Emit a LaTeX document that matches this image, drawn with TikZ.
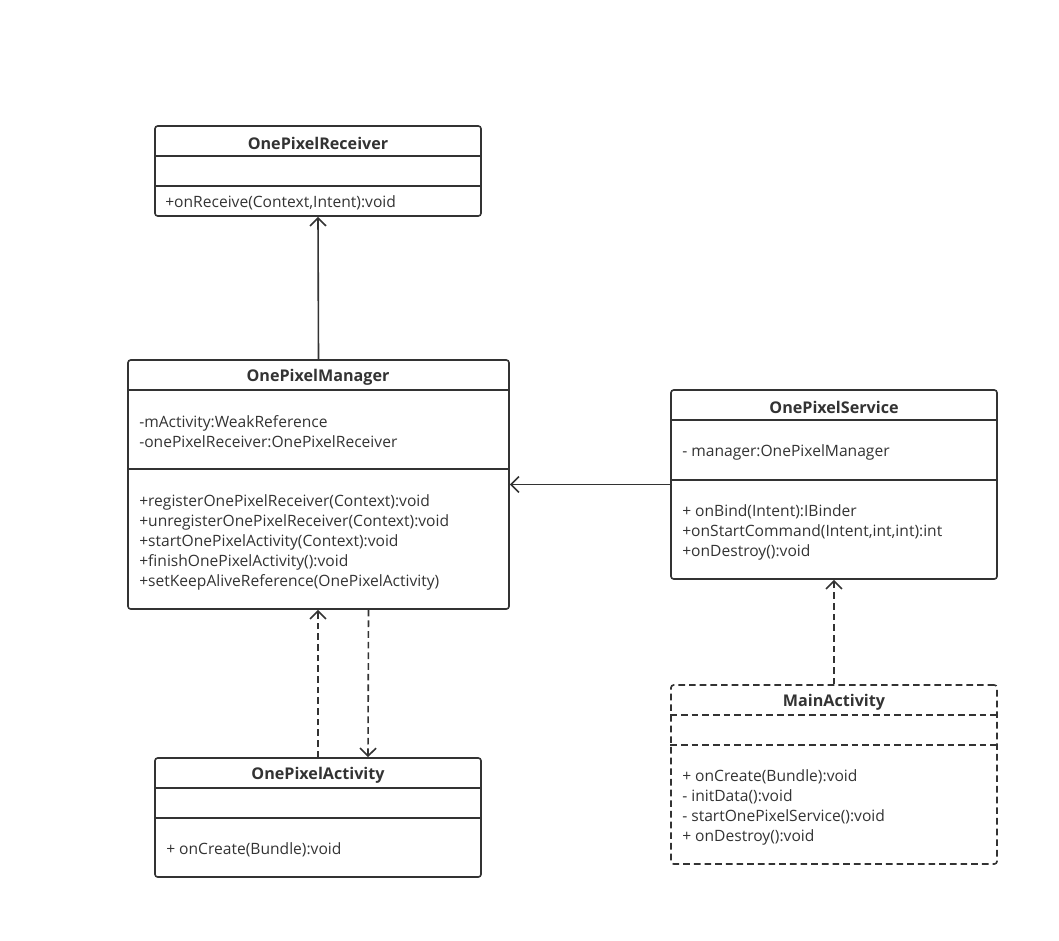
\documentclass[tikz,border=0pt]{standalone}
\usepackage{fontspec}
\setmainfont{Open Sans}
\usetikzlibrary{arrows.meta, positioning, fit, calc}
\definecolor{ink}{RGB}{51,51,51}

\begin{document}
\begin{tikzpicture}[x=0.75pt, y=-0.75pt,
  cls/.style={draw=ink, line width=1.2pt, rounded corners=2pt, inner sep=0pt},
  title/.style={font=\fontsize{12.1}{14}\selectfont\bfseries, text=ink},
  memb/.style={font=\fontsize{11.7}{15}\selectfont, text=ink, align=left, anchor=west, inner sep=0pt},
  sep/.style={draw=ink, line width=1.2pt},
  assoc/.style={draw=ink, line width=1.2pt, -{Straight Barb[length=6pt,width=12pt]}},
  dep/.style={assoc, dash pattern=on 5pt off 3pt}]
  \useasboundingbox (0,0) rectangle (1059,940);

  % OnePixelReceiver
  \node[cls, fit={(155,126) (481,216)}] (recv) {};
  \node[title] (recvT) at (318,143) {OnePixelReceiver};
  \draw[sep] (recv.west |- 0,156) -- (recv.east |- 0,156);
  \draw[sep] (recv.west |- 0,186) -- (recv.east |- 0,186);
  \node[memb] (recvM) at (165,203) {+onReceive(Context,Intent):void};

  % OnePixelManager
  \node[cls, fit={(128,360) (509,609)}] (mgr) {};
  \node[title] (mgrT) at (318,377) {OnePixelManager};
  \draw[sep] (mgr.west |- 0,390) -- (mgr.east |- 0,390);
  \draw[sep] (mgr.west |- 0,469) -- (mgr.east |- 0,469);
  \node[memb] (mgrF) at (139,432) {-mActivity:WeakReference\\-onePixelReceiver:OnePixelReceiver};
  \node[memb] (mgrM) at (139,542) {+registerOnePixelReceiver(Context):void\\+unregisterOnePixelReceiver(Context):void\\+startOnePixelActivity(Context):void\\+finishOnePixelActivity():void\\+setKeepAliveReference(OnePixelActivity)};

  % OnePixelService
  \node[cls, fit={(671,390) (997,579)}] (svc) {};
  \node[title] (svcT) at (834,407) {OnePixelService};
  \draw[sep] (svc.west |- 0,420) -- (svc.east |- 0,420);
  \draw[sep] (svc.west |- 0,480) -- (svc.east |- 0,480);
  \node[memb] (svcF) at (682,452) {- manager:OnePixelManager};
  \node[memb] (svcM) at (682,532) {+ onBind(Intent):IBinder\\+onStartCommand(Intent,int,int):int\\+onDestroy():void};

  % MainActivity
  \node[cls, dash pattern=on 5pt off 3pt, fit={(671,685) (997,864)}] (main) {};
  \node[title] (mainT) at (834,702) {MainActivity};
  \draw[sep, dash pattern=on 5pt off 3pt] (main.west |- 0,715) -- (main.east |- 0,715);
  \draw[sep, dash pattern=on 5pt off 3pt] (main.west |- 0,745) -- (main.east |- 0,745);
  \node[memb] (mainM) at (682,807) {+ onCreate(Bundle):void\\- initData():void\\- startOnePixelService():void\\+ onDestroy():void};

  % OnePixelActivity
  \node[cls, fit={(155,758) (481,877)}] (act) {};
  \node[title] (actT) at (318,775) {OnePixelActivity};
  \draw[sep] (act.west |- 0,788) -- (act.east |- 0,788);
  \draw[sep] (act.west |- 0,818) -- (act.east |- 0,818);
  \node[memb] (actM) at (166,850) {+ onCreate(Bundle):void};

  % connectors
  \draw[assoc] (mgr.north) -- (recv.south);
  \draw[assoc] (svc.west) -- (mgr.east);
  \draw[dep] (main.north) -- (svc.south);
  \draw[dep] (act.north) -- (act.north |- mgr.south);
  \draw[dep] ($(mgr.south)+(50,0)$) -- ($(act.north)+(50,0)$);
\end{tikzpicture}
\end{document}
